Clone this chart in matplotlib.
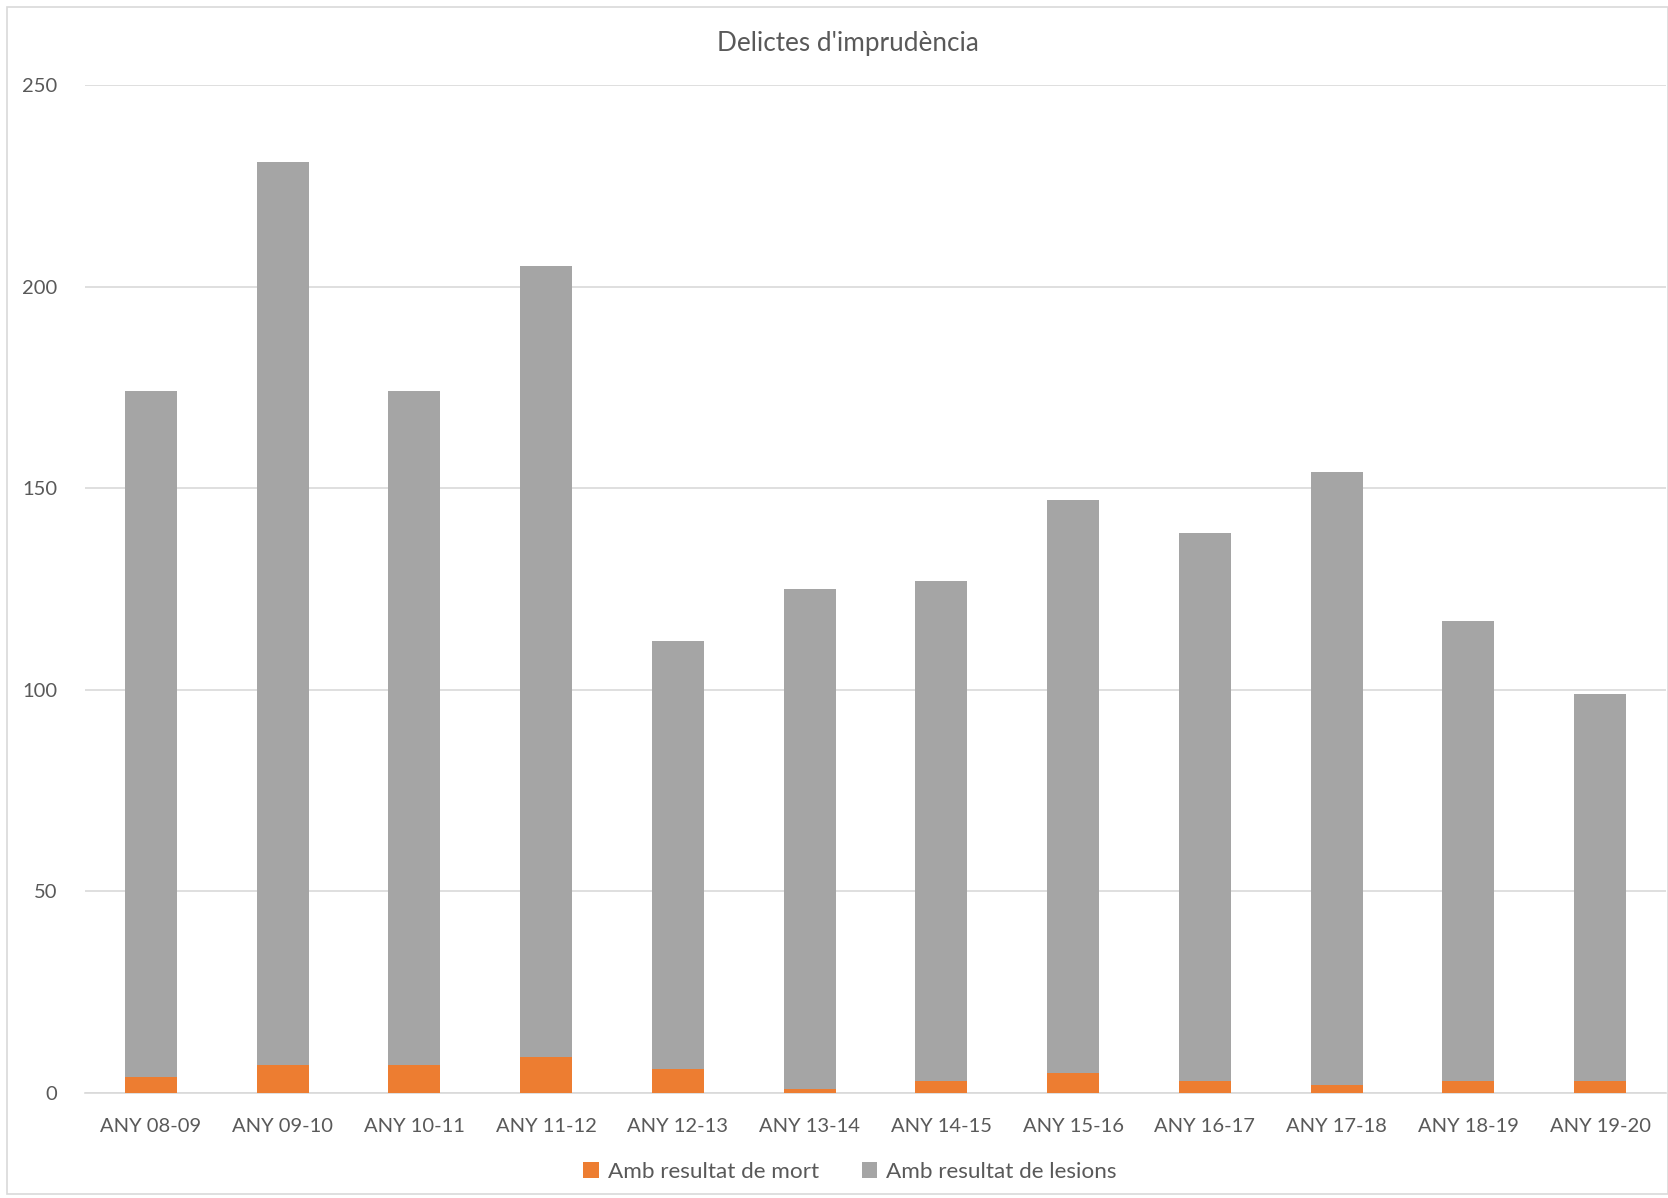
import matplotlib
matplotlib.use("Agg")
import matplotlib.pyplot as plt
from matplotlib.patches import Rectangle
import numpy as np

categories = ["ANY 08-09", "ANY 09-10", "ANY 10-11", "ANY 11-12", "ANY 12-13", "ANY 13-14",
              "ANY 14-15", "ANY 15-16", "ANY 16-17", "ANY 17-18", "ANY 18-19", "ANY 19-20"]
mort = [4, 7, 7, 9, 6, 1, 3, 5, 3, 2, 3, 3]
lesions = [170, 224, 167, 196, 106, 124, 124, 142, 136, 152, 114, 96]
yticks = [0, 50, 100, 150, 200, 250]
title = "Delictes d'imprudència"
series_names = ["Amb resultat de mort", "Amb resultat de lesions"]

plt.rcParams['font.family'] = ['Lato', 'DejaVu Sans']
txt = '#595959'

fig = plt.figure(figsize=(16.68, 11.98), dpi=100)
fig.patches.append(Rectangle((7/1668, 4/1198), 1 - 7/1668, 1 - 11/1198, transform=fig.transFigure,
                             fill=False, edgecolor='#D9D9D9', linewidth=1.2))
ax = fig.add_axes([85/1668, 1 - 1093/1198, 1581/1668, (1093 - 85)/1198])

x = np.arange(len(categories))
w = 0.395
b1 = ax.bar(x, mort, w, color='#ED7D31', label=series_names[0], zorder=3)
b2 = ax.bar(x, lesions, w, bottom=mort, color='#A5A5A5', label=series_names[1], zorder=3)

ax.set_xlim(-0.5, len(categories) - 0.5)
ax.set_ylim(0, 250)
ax.set_yticks(yticks)
ax.set_xticks(x)
ax.set_xticklabels(categories)
ax.yaxis.grid(True, color='#D9D9D9', linewidth=1.2, zorder=0)
for s in ['top', 'right', 'left']:
    ax.spines[s].set_visible(False)
ax.spines['bottom'].set_color('#D9D9D9')
ax.spines['bottom'].set_linewidth(1.2)
ax.tick_params(axis='both', length=0, colors=txt, labelsize=14.5)
ax.tick_params(axis='y', pad=20)
ax.tick_params(axis='x', pad=18)

fig.text(848/1668, 1 - 44/1198, title, ha='center', va='center', fontsize=18.8, color=txt)
fig.legend(handles=[b1, b2], labels=series_names, loc='center', bbox_to_anchor=(850/1668, 1 - 1172/1198),
           ncol=2, frameon=False, fontsize=16.2, labelcolor=txt, handlelength=0.7, handleheight=0.7,
           handletextpad=0.4, columnspacing=1.9)

fig.savefig("out.png", dpi=100)
